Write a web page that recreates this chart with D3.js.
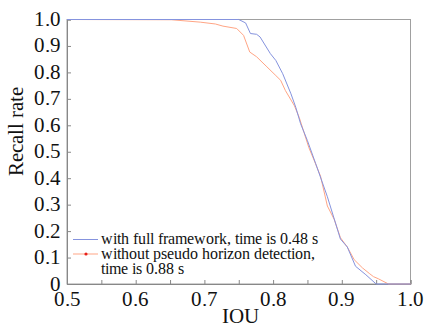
<!DOCTYPE html>
<html><head><meta charset="utf-8"><script src="https://cdn.jsdelivr.net/npm/d3@7"></script>
<style>
  @font-face { font-family: "ChartSerif"; src: local("Liberation Serif"), local("LiberationSerif"), local("Times New Roman"), local("Tinos"); }
  #chart text { font-family: "ChartSerif", "Times New Roman", "Liberation Serif", Tinos, serif !important; }
</style>
</head>
<body style="margin:0">
<svg id="chart" width="428" height="327"></svg>
<script>
// series 1: with full framework
const fullIou = [0.5, 0.75, 0.76, 0.767, 0.776, 0.781, 0.796, 0.804, 0.814, 0.826, 0.833, 0.84, 0.85, 0.862, 0.879, 0.898, 0.908, 0.92, 0.935, 0.95, 1.0];
const fullRecall = [1.0, 1.0, 0.987, 0.947, 0.944, 0.934, 0.871, 0.845, 0.795, 0.719, 0.668, 0.606, 0.542, 0.455, 0.33, 0.17, 0.14, 0.067, 0.035, 0, 0];

// series 2: without pseudo horizon detection
const noHorIou = [0.5, 0.652, 0.694, 0.716, 0.727, 0.747, 0.757, 0.766, 0.776, 0.791, 0.804, 0.811, 0.818, 0.831, 0.838, 0.845, 0.852, 0.86, 0.869, 0.879, 0.889, 0.898, 0.908, 0.918, 0.93, 0.94, 0.946, 0.953, 0.968, 1.0];
const noHorRecall = [1.0, 0.999, 0.99, 0.983, 0.975, 0.966, 0.94, 0.877, 0.859, 0.821, 0.788, 0.77, 0.731, 0.674, 0.63, 0.573, 0.516, 0.466, 0.408, 0.295, 0.244, 0.175, 0.14, 0.092, 0.061, 0.04, 0.028, 0.02, 0, 0];

const xTicks = [0.5, 0.55, 0.6, 0.65, 0.7, 0.75, 0.8, 0.85, 0.9, 0.95, 1.0];
const xLabels = [0.5, 0.6, 0.7, 0.8, 0.9, 1.0];
const yTicks = [0, 0.1, 0.2, 0.3, 0.4, 0.5, 0.6, 0.7, 0.8, 0.9, 1.0];
const legendLabels = ["with full framework, time is 0.48 s", "without pseudo horizon detection,", "time is 0.88 s"];

const FONT = "'Times New Roman', 'Liberation Serif', Tinos, serif";
const svg = d3.select("#chart").attr("font-family", FONT);
const plotLeft = 67, plotRight = 410.5, plotTop = 19.5, plotBottom = 284;

const x = d3.scaleLinear().domain([0.5, 1.0]).range([plotLeft, plotRight]);
const y = d3.scaleLinear().domain([0, 1.0]).range([plotBottom, plotTop]);

// frame (top and right)
svg.append("rect")
  .attr("x", plotLeft).attr("y", plotTop)
  .attr("width", plotRight - plotLeft).attr("height", plotBottom - plotTop)
  .attr("fill", "none").attr("stroke", "#a0a0a0").attr("stroke-width", 1);

// x axis, ticks inward
const xAxis = svg.append("g")
  .attr("transform", `translate(0,${plotBottom})`)
  .call(d3.axisBottom(x).tickValues(xTicks).tickSize(-4).tickFormat(""));
xAxis.select(".domain").attr("stroke", "#888");
xAxis.selectAll(".tick line").attr("stroke", "#888");

// y axis, ticks inward
const yAxis = svg.append("g")
  .attr("transform", `translate(${plotLeft},0)`)
  .call(d3.axisLeft(y).tickValues(yTicks).tickSize(-4).tickFormat(""));
yAxis.select(".domain").attr("stroke", "#888");
yAxis.selectAll(".tick line").attr("stroke", "#888");

// tick labels, titles, legend text
const texts = [
  ...xLabels.map(d => ({ t: d.toFixed(1), x: x(d), y: 306, size: 21, anchor: "middle" })),
  ...yTicks.map(d => ({ t: d === 0 ? "0" : d.toFixed(1), x: 61, y: y(d) + 6.5, size: 21, anchor: "end" })),
  { t: "IOU", x: 240, y: 323, size: 21, anchor: "middle" },
  ...legendLabels.map((d, i) => ({ t: d, x: 100.5, y: 244 + i * 15, size: 16, anchor: "start" }))
];

svg.selectAll("text.lbl").data(texts).join("text")
  .attr("class", "lbl")
  .attr("x", d => d.x).attr("y", d => d.y)
  .attr("font-size", d => d.size)
  .attr("font-family", FONT)
  .attr("text-anchor", d => d.anchor)
  .attr("fill", "#111")
  .text(d => d.t);

svg.append("text")
  .attr("transform", "translate(23,131) rotate(-90)")
  .attr("text-anchor", "middle")
  .attr("font-size", 21)
  .attr("font-family", FONT)
  .attr("fill", "#111")
  .text("Recall rate");

// lines
const line = d3.line().x(d => x(d[0])).y(d => y(d[1]));

svg.append("path")
  .datum(noHorIou.map((v, i) => [v, noHorRecall[i]]))
  .attr("d", line)
  .attr("fill", "none")
  .attr("stroke", "#ffa585")
  .attr("stroke-width", 1);

svg.append("path")
  .datum(fullIou.map((v, i) => [v, fullRecall[i]]))
  .attr("d", line)
  .attr("fill", "none")
  .attr("stroke", "#8593de")
  .attr("stroke-width", 1);

// legend marks
svg.append("line")
  .attr("x1", 73).attr("x2", 98).attr("y1", 239.5).attr("y2", 239.5)
  .attr("stroke", "#8593de");
svg.append("line")
  .attr("x1", 73).attr("x2", 98).attr("y1", 254).attr("y2", 254)
  .attr("stroke", "#ffa585");
svg.append("circle")
  .attr("cx", 86).attr("cy", 254).attr("r", 1.6)
  .attr("fill", "#e8201a");
</script>
</body>
</html>
